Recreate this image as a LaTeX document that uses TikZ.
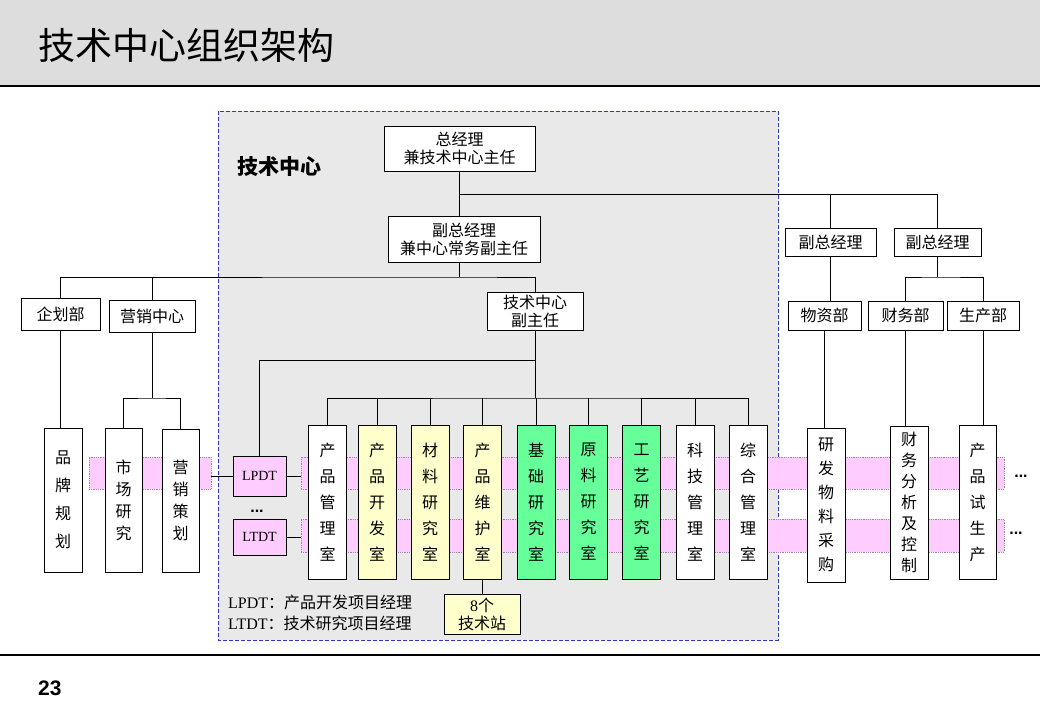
\documentclass[tikz,border=0pt]{standalone}
\usepackage{fontspec}
\setmainfont{Noto Sans CJK SC}
\newfontfamily\latfont{Liberation Serif}
\newfontfamily\numfont{Liberation Sans}
\usetikzlibrary{positioning}

\definecolor{hdrgray}{HTML}{DDDDDD}
\definecolor{centergray}{HTML}{E9E9E9}
\definecolor{bandpink}{HTML}{FFCCFF}
\definecolor{banddot}{HTML}{A080B0}
\definecolor{roomyellow}{HTML}{FFFFCC}
\definecolor{roomgreen}{HTML}{66FF99}
\definecolor{dashblue}{HTML}{3333CC}

\tikzset{
  box/.style={draw, fill=white, line width=1pt, inner sep=0pt, align=center,
    font=\fontsize{16}{18}\selectfont},
  vbox/.style={box, minimum width=38pt, minimum height=154pt,
    font=\fontsize{16}{26}\selectfont},
  band/.style={draw=banddot, densely dotted, fill=bandpink, line width=0.8pt, inner sep=0pt},
  link/.style={line width=1pt},
}

\begin{document}
\begin{tikzpicture}[x=1pt, y=-1pt]
    \useasboundingbox (0,0) rectangle (1040,720);

    % 标题栏
    \fill[hdrgray] (0,0) rectangle (1040,86);
    \draw[line width=1.5pt] (0,86) -- (1040,86);
    \node[anchor=west, inner sep=0pt, font=\fontsize{37}{40}\selectfont] (title) at (38,45) {技术中心组织架构};

    % 页脚
    \draw[line width=1.5pt] (0,655) -- (1040,655);
    \node[anchor=west, inner sep=0pt, font=\numfont\bfseries\fontsize{21}{24}\selectfont] (page) at (38,688) {23};

    % 技术中心区域
    \draw[dashblue, dash pattern=on 4pt off 2pt, fill=centergray, line width=0.8pt] (218,111) rectangle (778,640);
    \node[anchor=west, inner sep=0pt, font=\bfseries\fontsize{21}{24}\selectfont] (centerlabel) at (237,167) {技术中心};

    % 项目条带
    \node[band, minimum width=122pt, minimum height=32pt] (band0) at (150,473) {};
    \node[band, minimum width=703pt, minimum height=32pt] (band1) at (652.5,473) {};
    \node[band, minimum width=703pt, minimum height=33pt] (band2) at (652.5,535.5) {};

    % 领导层
    \node[box, minimum width=151pt, minimum height=45pt] (gm) at (459.5,148.5) {总经理\\兼技术中心主任};
    \node[box, minimum width=152pt, minimum height=46pt] (dgm) at (464,239) {副总经理\\兼中心常务副主任};
    \node[box, minimum width=96pt, minimum height=38pt] (vdir) at (535,311) {技术中心\\副主任};
    \node[box, minimum width=91pt, minimum height=28pt] (fzjl1) at (830.5,242) {副总经理};
    \node[box, minimum width=87pt, minimum height=28pt] (fzjl2) at (937.5,242) {副总经理};

    % 左侧部门
    \node[box, minimum width=79pt, minimum height=32pt] (qhb) at (60.5,314) {企划部};
    \node[box, minimum width=86pt, minimum height=32pt] (yxzx) at (152,316) {营销中心};
    \node[vbox, minimum height=144pt, font=\fontsize{16}{28}\selectfont] (ppgh) at (63,500) {品\\牌\\规\\划};
    \node[vbox, minimum width=37pt, minimum height=144pt, font=\fontsize{16}{22}\selectfont] (scyj) at (123.5,500) {市\\场\\研\\究};
    \node[vbox, minimum width=37pt, minimum height=143pt, font=\fontsize{16}{22}\selectfont] (yxch) at (180.5,500.5) {营\\销\\策\\划};

    % 项目经理
    \node[box, fill=bandpink, minimum width=53pt, minimum height=40pt, font=\latfont\fontsize{14}{16}\selectfont] (lpdt) at (259.5,476) {LPDT};
    \node[box, fill=bandpink, minimum width=53pt, minimum height=36pt, font=\latfont\fontsize{14}{16}\selectfont] (ltdt) at (259.5,537) {LTDT};
    \node[inner sep=0pt, font=\numfont\bfseries\fontsize{16}{16}\selectfont] (dots0) at (257,511) {...};

    % 各室
    \foreach \x/\name/\col/\txt in {
        327.5/cpgl/white/产\\品\\管\\理\\室,
        377/cpkf/roomyellow/产\\品\\开\\发\\室,
        430/clyj/roomyellow/材\\料\\研\\究\\室,
        482.5/cpwh/roomyellow/产\\品\\维\\护\\室,
        536/jcyj/roomgreen/基\\础\\研\\究\\室,
        588.5/ylyj/roomgreen/原\\料\\研\\究\\室,
        641.5/gyyj/roomgreen/工\\艺\\研\\究\\室,
        695/kjgl/white/科\\技\\管\\理\\室,
        748/zhgl/white/综\\合\\管\\理\\室}
      \node[vbox, fill=\col] (\name) at (\x,502) {\txt};

    \node[box, fill=roomyellow, minimum width=76pt, minimum height=40pt] (jsz) at (482,614) {{\latfont 8}个\\技术站};

    % 说明
    \node[anchor=west, inner sep=0pt, font=\fontsize{16}{18}\selectfont] (legend1) at (228,602) {{\latfont LPDT}：产品开发项目经理};
    \node[anchor=west, inner sep=0pt, font=\fontsize{16}{18}\selectfont] (legend2) at (228,623) {{\latfont LTDT}：技术研究项目经理};

    % 右侧部门
    \node[box, minimum width=73pt, minimum height=29pt] (wzb) at (824.5,315.5) {物资部};
    \node[box, minimum width=75pt, minimum height=29pt] (cwb) at (905.5,315.5) {财务部};
    \node[box, minimum width=72pt, minimum height=29pt] (scb) at (983,315.5) {生产部};
    \node[vbox, font=\fontsize{16}{24}\selectfont] (yfwl) at (826,505) {研\\发\\物\\料\\采\\购};
    \node[vbox, minimum height=153pt, font=\fontsize{16}{21}\selectfont] (cwfx) at (909,502.5) {财\\务\\分\\析\\及\\控\\制};
    \node[vbox, minimum width=37pt] (cpss) at (977.5,502) {产\\品\\试\\生\\产};
    \node[inner sep=0pt, font=\numfont\bfseries\fontsize{16}{16}\selectfont] (dots1) at (1021,476) {...};
    \node[inner sep=0pt, font=\numfont\bfseries\fontsize{16}{16}\selectfont] (dots2) at (1016,533) {...};

    % 连线
    \coordinate (topbus) at (459.5,194);
    \coordinate (midbus) at (459.5,277);
    \coordinate (yxbus) at (152,398);
    \coordinate (roombus) at (535,398);
    \coordinate (lpbus) at (535,360);
    \coordinate (cwbus) at (937.5,277);

    \draw[link] (gm.south) -- (gm.south |- dgm.north);
    \draw[link] (topbus) -| (fzjl2.north);
    \draw[link] (fzjl1.north) -- (fzjl1.north |- topbus);
    \draw[link] (midbus |- dgm.south) -- (midbus);
    \draw[link] (qhb.north) |- (midbus) -| (vdir.north);
    \draw[link] (yxzx.north) -- (yxzx.north |- midbus);

    \draw[link] (qhb.south) -- (qhb.south |- ppgh.north);
    \draw[link] (yxzx.south) -- (yxbus);
    \draw[link] (scyj.north) |- (yxbus) -| (yxch.north);

    \draw[link] (vdir.south) -- (roombus);
    \draw[link] (cpgl.north) |- (roombus) -| (zhgl.north);
    \foreach \r in {cpkf,clyj,cpwh,jcyj,ylyj,gyyj,kjgl}
      \draw[link] (\r.north) -- (\r.north |- roombus);
    \draw[link] (lpdt.north) |- (lpbus);
    \draw[link] (cpwh.south) -- (cpwh.south |- jsz.north);

    \draw[link] (band0.east |- lpdt.west) -- (lpdt.west);
    \draw[link] (lpdt.east) -- (band1.west |- lpdt.east);
    \draw[link] (ltdt.east) -- (band2.west |- ltdt.east);

    \draw[link] (fzjl1.south) -- (fzjl1.south |- wzb.north);
    \draw[link] (fzjl2.south) -- (cwbus);
    \draw[link] (cwb.north) |- (cwbus) -| (scb.north);
    \draw[link] (wzb.south) -- (wzb.south |- yfwl.north);
    \draw[link] (cwb.south) -- (cwb.south |- cwfx.north);
    \draw[link] (scb.south) -- (scb.south |- cpss.north);
\end{tikzpicture}
\end{document}
